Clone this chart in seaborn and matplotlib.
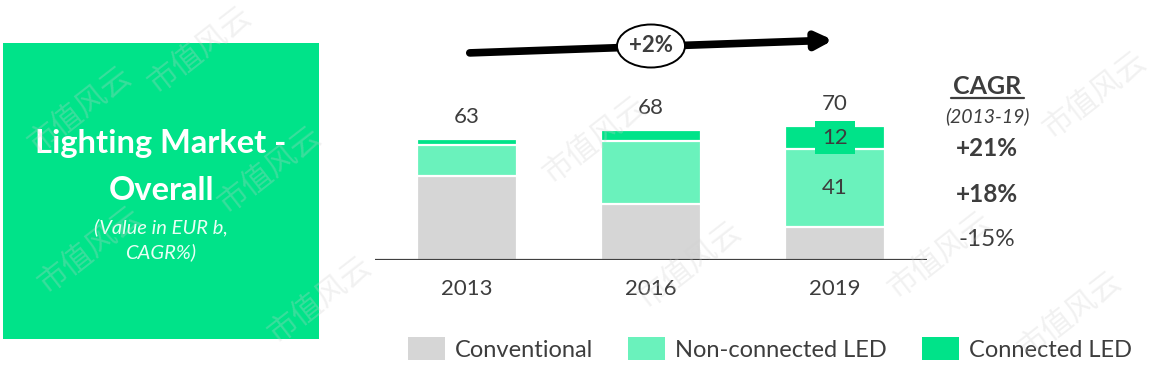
import matplotlib
matplotlib.use("Agg")
import matplotlib.pyplot as plt
import numpy as np
import pandas as pd
import seaborn as sns
from matplotlib.patches import Ellipse, FancyArrowPatch, Patch, Rectangle

YEARS = ["2013", "2016", "2019"]
CONVENTIONAL = [44, 29, 17]
NON_CONNECTED = [16, 33, 41]
CONNECTED = [3, 6, 12]
TOTALS = [63, 68, 70]
CAGR_LABELS = ["+21%", "+18%", "-15%"]
SERIES_NAMES = ["Conventional", "Non-connected LED", "Connected LED"]

GREY = "#d6d6d6"
LIGHT_GREEN = "#6af2bc"
GREEN = "#00e389"
TEXT = "#3d3d3d"
FONT = "Lato"

W, H = 1154, 375


def fx(px):
    return px / W


def fy(py):
    return 1 - py / H


def main():
    sns.set_theme(style="white")
    plt.rcParams["font.family"] = [FONT, "DejaVu Sans"]

    df = pd.DataFrame(
        {
            "year": YEARS,
            "conventional": CONVENTIONAL,
            "non_connected": NON_CONNECTED,
            "connected": CONNECTED,
        }
    )
    df["cum_nc"] = df["conventional"] + df["non_connected"]
    df["cum_all"] = df["cum_nc"] + df["connected"]

    fig = plt.figure(figsize=(W / 100, H / 100), dpi=100)
    fig.patch.set_facecolor("white")

    # watermark
    marks = [(200, 50), (595, 140), (1095, 95), (690, 265), (940, 255),
             (320, 300), (90, 250), (1070, 315), (80, 110), (270, 170)]
    for mx, my in marks:
        fig.text(fx(mx), fy(my), "市值风云", family=["Noto Sans CJK SC"],
                 fontsize=22, color="#cfcfcf", alpha=0.28, rotation=38,
                 ha="center", va="center", zorder=10)

    # green title box
    fig.patches.append(
        Rectangle((fx(3), fy(339)), fx(316), 296 / H, transform=fig.transFigure,
                  facecolor=GREEN, edgecolor="none", zorder=1)
    )
    fig.text(fx(161), fy(144), "Lighting Market -", color="white",
             fontsize=23.5, fontweight="bold", ha="center", va="center", zorder=2)
    fig.text(fx(161), fy(190), "Overall", color="white",
             fontsize=23.5, fontweight="bold", ha="center", va="center", zorder=2)
    fig.text(fx(161), fy(227), "(Value in EUR b,", color="#e8fff4",
             fontsize=14.5, style="italic", ha="center", va="center", zorder=2)
    fig.text(fx(161), fy(252), "CAGR%)", color="#e8fff4",
             fontsize=14.5, style="italic", ha="center", va="center", zorder=2)

    # bars
    ax = fig.add_axes([fx(375), fy(260), fx(552), 240 / H])
    ax.set_facecolor("none")
    layers = [("cum_all", GREEN), ("cum_nc", LIGHT_GREEN), ("conventional", GREY)]
    for col, color in layers:
        sns.barplot(data=df, x="year", y=col, color=color, saturation=1,
                    width=0.545, edgecolor="white", linewidth=1.6,
                    errorbar=None, ax=ax)
    ax.set_xlim(-0.5, 2.5)
    ax.set_ylim(0, 240 / 1.914)
    ax.axhline(0, color="#404040", lw=1.6, zorder=5)
    for s in ax.spines.values():
        s.set_visible(False)
    ax.set_xticks([])
    ax.set_yticks([])
    ax.set_xlabel("")
    ax.set_ylabel("")

    for i, year in enumerate(YEARS):
        ax.text(i, -15.3, year, ha="center", va="center", fontsize=16,
                color=TEXT)
        ax.text(i, TOTALS[i] + 11.5, str(TOTALS[i]), ha="center",
                va="center", fontsize=16, color=TEXT)

    last = len(YEARS) - 1
    ax.text(last, CONVENTIONAL[last] + NON_CONNECTED[last] / 2,
            str(NON_CONNECTED[last]), ha="center", va="center",
            fontsize=16, color=TEXT)
    ax.text(last, df["cum_nc"][last] + CONNECTED[last] / 2,
            str(CONNECTED[last]), ha="center", va="center", fontsize=16,
            color=TEXT, zorder=6,
            bbox=dict(boxstyle="square,pad=0.3", facecolor=GREEN,
                      edgecolor="none"))

    # growth arrow
    arrow = FancyArrowPatch((fx(467), fy(53)), (fx(836), fy(40)),
                            transform=fig.transFigure, arrowstyle="-|>",
                            mutation_scale=24, lw=5.5, color="black",
                            zorder=3)
    fig.patches.append(arrow)
    fig.patches.append(
        Ellipse((fx(651), fy(46)), fx(68), 43 / H, transform=fig.transFigure,
                facecolor="white", edgecolor="black", lw=1.4, zorder=4)
    )
    fig.text(fx(651), fy(46), "+2%", fontsize=16, fontweight="bold",
             ha="center", va="center", color=TEXT, zorder=5)

    # CAGR column
    fig.text(fx(987), fy(86), "CAGR", fontsize=18, fontweight="bold",
             ha="center", va="center", color=TEXT)
    fig.lines.append(
        plt.Line2D([fx(951), fx(1024)], [fy(98), fy(98)],
                   transform=fig.transFigure, color=TEXT, lw=1.6)
    )
    fig.text(fx(987), fy(116), "(2013-19)", fontsize=14, style="italic",
             ha="center", va="center", color=TEXT)
    for lab, py in zip(CAGR_LABELS, [148, 195, 240]):
        weight = "bold" if lab.startswith("+") else "normal"
        fig.text(fx(987), fy(py), lab, fontsize=17.5, fontweight=weight,
                 ha="center", va="center", color=TEXT)

    # legend
    handles = [Patch(facecolor=c, edgecolor="none")
               for c in [GREY, LIGHT_GREEN, GREEN]]
    fig.legend(handles, SERIES_NAMES, loc="center",
               bbox_to_anchor=(fx(770), fy(349)), ncol=3, frameon=False,
               fontsize=17, labelcolor=TEXT, handlelength=1.57,
               handleheight=1.1, handletextpad=0.42, columnspacing=1.5,
               borderpad=0, borderaxespad=0)

    fig.savefig("out.png", dpi=100, facecolor="white")


if __name__ == "__main__":
    main()
